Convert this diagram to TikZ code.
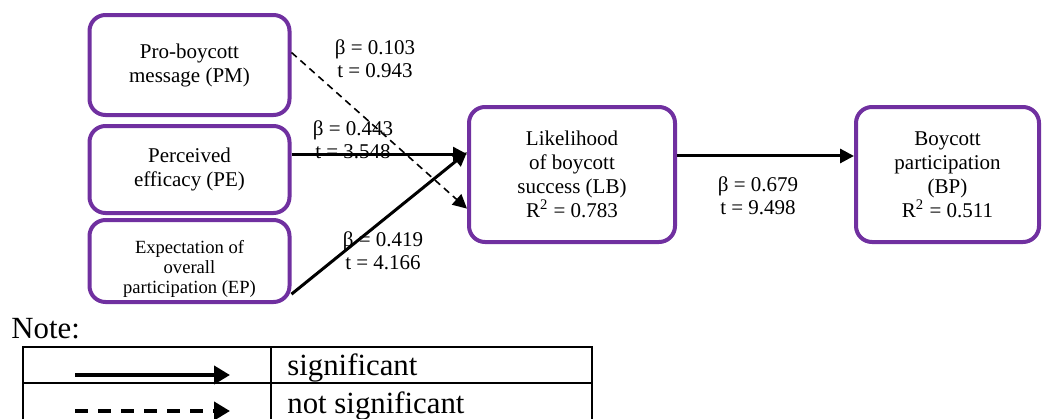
\documentclass[tikz,border=0pt]{standalone}
\usepackage{fontspec}
\setmainfont{Liberation Serif}
\usetikzlibrary{arrows.meta}
\definecolor{wordpurple}{HTML}{7030A0}

\begin{document}
\begin{tikzpicture}[x=0.5pt, y=-0.5pt,
  font=\fontsize{10.5}{12}\selectfont,
  var/.style={draw=wordpurple, line width=2pt, rounded corners=8pt,
              fill=white, align=center, inner sep=0pt},
  est/.style={align=center, inner sep=0pt,
              font=\fontsize{10.5}{11.5}\selectfont},
  sig/.style={-{Triangle[length=7pt, width=7pt]}, line width=1.5pt},
  nsig/.style={-{Triangle[length=7pt, width=7pt]}, line width=0.8pt,
               dash pattern=on 3.5pt off 2.5pt},
  keyarr/.style={-{Triangle[length=8pt, width=9pt]}, line width=2pt},
  key/.style={font=\fontsize{15.4}{17}\selectfont, inner sep=0pt}]

\clip (0,0) rectangle (1042,418);

% constructs
\node[var, minimum width=100pt, minimum height=50pt] (pm) at (189.5,65)
  {Pro-boycott\\message (PM)};
\node[var, minimum width=100pt, minimum height=43.5pt] (pe) at (189.5,169.5)
  {Perceived\\efficacy (PE)};
\node[var, minimum width=100pt, minimum height=41pt] (ep) at (189.5,261) {};
\node[align=center, inner sep=0pt, font=\fontsize{9.3}{10}\selectfont]
  (eptext) at (189.5,269) {Expectation of\\overall\\participation (EP)};
\node[var, minimum width=103pt, minimum height=67.5pt] (lb) at (572,174.5)
  {Likelihood\\of boycott\\success (LB)\\R\textsuperscript{2} = 0.783};
\node[var, minimum width=91.5pt, minimum height=67.5pt] (bp) at (947.5,174.5)
  {Boycott\\participation\\(BP)\\R\textsuperscript{2} = 0.511};

% paths
\draw[nsig] (pm.7.4) -- (lb.198);
\draw[sig] (pe.east |- lb.169.3) -- (lb.169.3);
\draw[sig] (ep.-18.8) -- (lb.168);
\draw[sig] (lb.10.7) -- (lb.10.7 -| bp.west);

\node[est] (e1) at (375,59) {β = 0.103\\t = 0.943};
\node[est] (e2) at (353,140) {β = 0.443\\t = 3.548};
\node[est] (e3) at (383,251) {β = 0.419\\t = 4.166};
\node[est] (e4) at (758,196) {β = 0.679\\t = 9.498};

% legend
\node[key, anchor=base west] (note) at (11,338) {Note:};
\draw[line width=1pt] (23,347) rectangle (592,420);
\draw[line width=1pt] (23,383) -- (592,383);
\draw[line width=1pt] (271,347) -- (271,420);

\coordinate (s0) at (75,375);
\coordinate (s1) at (230,375);
\coordinate (n0) at (75,411);
\coordinate (n1) at (230,411);
\draw[keyarr] (s0) -- (s1);
\draw[keyarr, dash pattern=on 6.5pt off 5pt] (n0) -- (n1);
\node[key, anchor=base west] (ks) at (287,375) {significant};
\node[key, anchor=base west] (kn) at (287,413) {not significant};
\end{tikzpicture}
\end{document}
